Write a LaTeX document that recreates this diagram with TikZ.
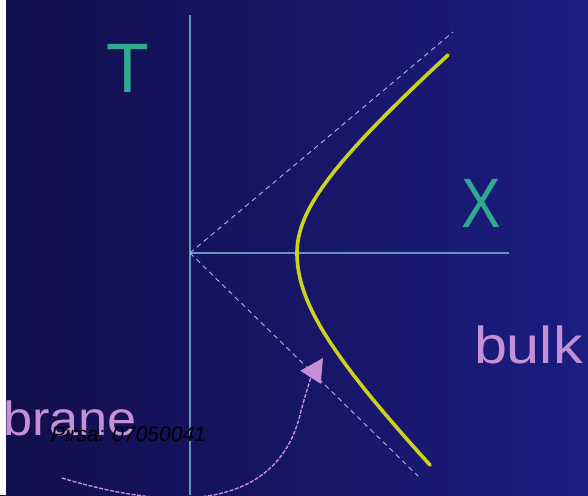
\documentclass[tikz,border=0pt]{standalone}
\usepackage{fontspec}
\setmainfont{Liberation Sans}
\usetikzlibrary{arrows.meta}
\definecolor{bgL}{HTML}{120E4C}
\definecolor{bgM}{HTML}{15125C}
\definecolor{bgR}{HTML}{1B1D80}
\definecolor{axiscol}{HTML}{6394BC}
\definecolor{dashcol}{HTML}{A6BCE4}
\definecolor{teallab}{HTML}{2FA98F}
\definecolor{pinklab}{HTML}{C690D8}
\definecolor{branecol}{HTML}{D0D01E}
\tikzset{
  axisline/.style={draw=axiscol, line width=1.6pt},
  lightcone/.style={draw=dashcol, line width=0.9pt, dash pattern=on 5pt off 4pt},
  braneline/.style={draw=branecol, line width=3.6pt, line cap=round},
  pointer/.style={draw=pinklab, line width=1.4pt, dash pattern=on 4pt off 1.5pt,
    -{Triangle[length=23pt,width=24pt,fill=pinklab]}},
  lab/.style={inner sep=0pt, outer sep=0pt},
}
\begin{document}
\begin{tikzpicture}[x=1pt,y=-1pt]
\useasboundingbox (0,0) rectangle (588,495);
\shade[left color=bgL, middle color=bgM, right color=bgR] (0,0) rectangle (588,495);
\fill[white] (0,0) rectangle (6,495);
% axes
\coordinate (O) at (190,253);
\coordinate (Ttop) at (190,15);
\coordinate (Tbot) at (190,495);
\coordinate (Xend) at (509,253);
\draw[axisline] (Ttop) -- (Tbot);
\draw[axisline] (O) -- (Xend);
% light cone
\coordinate (LCu) at (453,32);
\coordinate (LCd) at (418,476);
\draw[lightcone] (O) -- (LCu);
\draw[lightcone] (O) -- (LCd);
% brane hyperbola
\draw[braneline] plot[domain=2.12:0, samples=60, smooth] ({190+100*sqrt(1.1449+1.027*\x*\x)}, {253+100*\x})
  -- plot[domain=0:1.98, samples=60, smooth] ({190+100*sqrt(1.1449+1.406*\x*\x)}, {253-100*\x});
% labels
\node[lab, anchor=base, text=teallab, font=\fontsize{70}{70}\selectfont] (T) at (128,92) {T};
\node[lab, anchor=base, text=teallab, font=\fontsize{70}{70}\selectfont] (X) at (481,227) {\scalebox{0.85}[1]{X}};
\node[lab, anchor=base west, text=pinklab, font=\fontsize{52}{52}\selectfont] (bulk) at (474,363) {\scalebox{1.14}[1]{bulk}};
\node[lab, anchor=base west, text=pinklab, font=\fontsize{48}{48}\selectfont] (brane) at (3,435) {\scalebox{1.09}[1]{brane}};
\node[lab, anchor=base west, text=black, font=\fontsize{21}{21}\selectfont\itshape] (pirsa) at (51,441) {Pirsa: 07050041};
% pointer arrow
\coordinate (A0) at (62,478);
\coordinate (A1) at (300,415);
\coordinate (A2) at (323,358);
\draw[pointer] (A0) .. controls (200,520) and (280,495) .. (A1) .. controls (305,395) and (312,375) .. (A2);
\end{tikzpicture}
\end{document}
